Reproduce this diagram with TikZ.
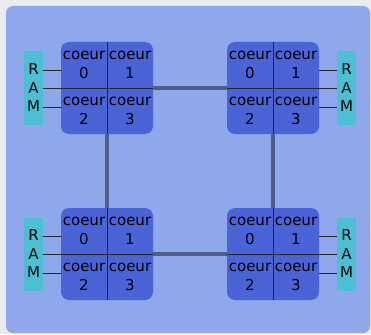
\documentclass[tikz,border=0pt]{standalone}
\usepackage{fontspec}
\setmainfont{DejaVu Sans}
\definecolor{bggray}{HTML}{E9ECEF}
\definecolor{panelblue}{HTML}{8FA7EB}
\definecolor{chipblue}{HTML}{4A64D8}
\definecolor{ramcyan}{HTML}{4AC0D2}
\definecolor{linkgray}{HTML}{4F5D8C}
\begin{document}
\begin{tikzpicture}[x=1pt,y=-1pt,every node/.style={font=\fontsize{15}{18.5}\selectfont},chip/.style={fill=chipblue,rounded corners=8pt,minimum width=92pt,minimum height=92pt,inner sep=0pt},cell/.style={align=center,inner sep=0pt},ram/.style={fill=ramcyan,minimum width=19pt,minimum height=73pt,align=center,inner sep=0pt},wire/.style={black!85,line width=0.9pt},link/.style={linkgray,line width=3.5pt}]
\fill[bggray] (0,0) rectangle (371,334);
\fill[panelblue,rounded corners=7pt] (6,6) rectangle (370,333);
% four processors, each with four cores
\foreach \c/\x/\y in {A/107/88,B/273/88,C/107/254,D/273/254}{
  \node[chip] (\c) at (\x,\y) {};
  \node[cell] (\c0) at (\x-23,\y-23) {coeur\\0};
  \node[cell] (\c1) at (\x+23,\y-23) {coeur\\1};
  \node[cell] (\c2) at (\x-23,\y+23) {coeur\\2};
  \node[cell] (\c3) at (\x+23,\y+23) {coeur\\3};
  \draw[wire] (\c.north) -- (\c.south);
}
\node[ram] (ramA) at (33.5,88) {R\\A\\M};
\node[ram] (ramB) at (346.5,88) {R\\A\\M};
\node[ram] (ramC) at (33.5,254) {R\\A\\M};
\node[ram] (ramD) at (346.5,254) {R\\A\\M};
% memory buses
\draw[wire] (ramA.east) -- (A.east);
\draw[wire] ([yshift=18pt]ramA.east) -- ([yshift=18pt]A.west);
\draw[wire] ([yshift=-19pt]ramA.east) -- ([yshift=-19pt]A.west);
\draw[wire] (ramB.west) -- (B.west);
\draw[wire] ([yshift=18pt]ramB.west) -- ([yshift=18pt]B.east);
\draw[wire] ([yshift=-19pt]ramB.west) -- ([yshift=-19pt]B.east);
\draw[wire] (ramC.east) -- (C.east);
\draw[wire] ([yshift=18pt]ramC.east) -- ([yshift=18pt]C.west);
\draw[wire] ([yshift=-19pt]ramC.east) -- ([yshift=-19pt]C.west);
\draw[wire] (ramD.west) -- (D.west);
\draw[wire] ([yshift=18pt]ramD.west) -- ([yshift=18pt]D.east);
\draw[wire] ([yshift=-19pt]ramD.west) -- ([yshift=-19pt]D.east);
% interconnect between processors
\draw[link] (A.east) -- (B.west);
\draw[link] (A.south) -- (C.north);
\draw[link] (B.south) -- (D.north);
\draw[link] (C.east) -- (D.west);
\end{tikzpicture}
\end{document}
